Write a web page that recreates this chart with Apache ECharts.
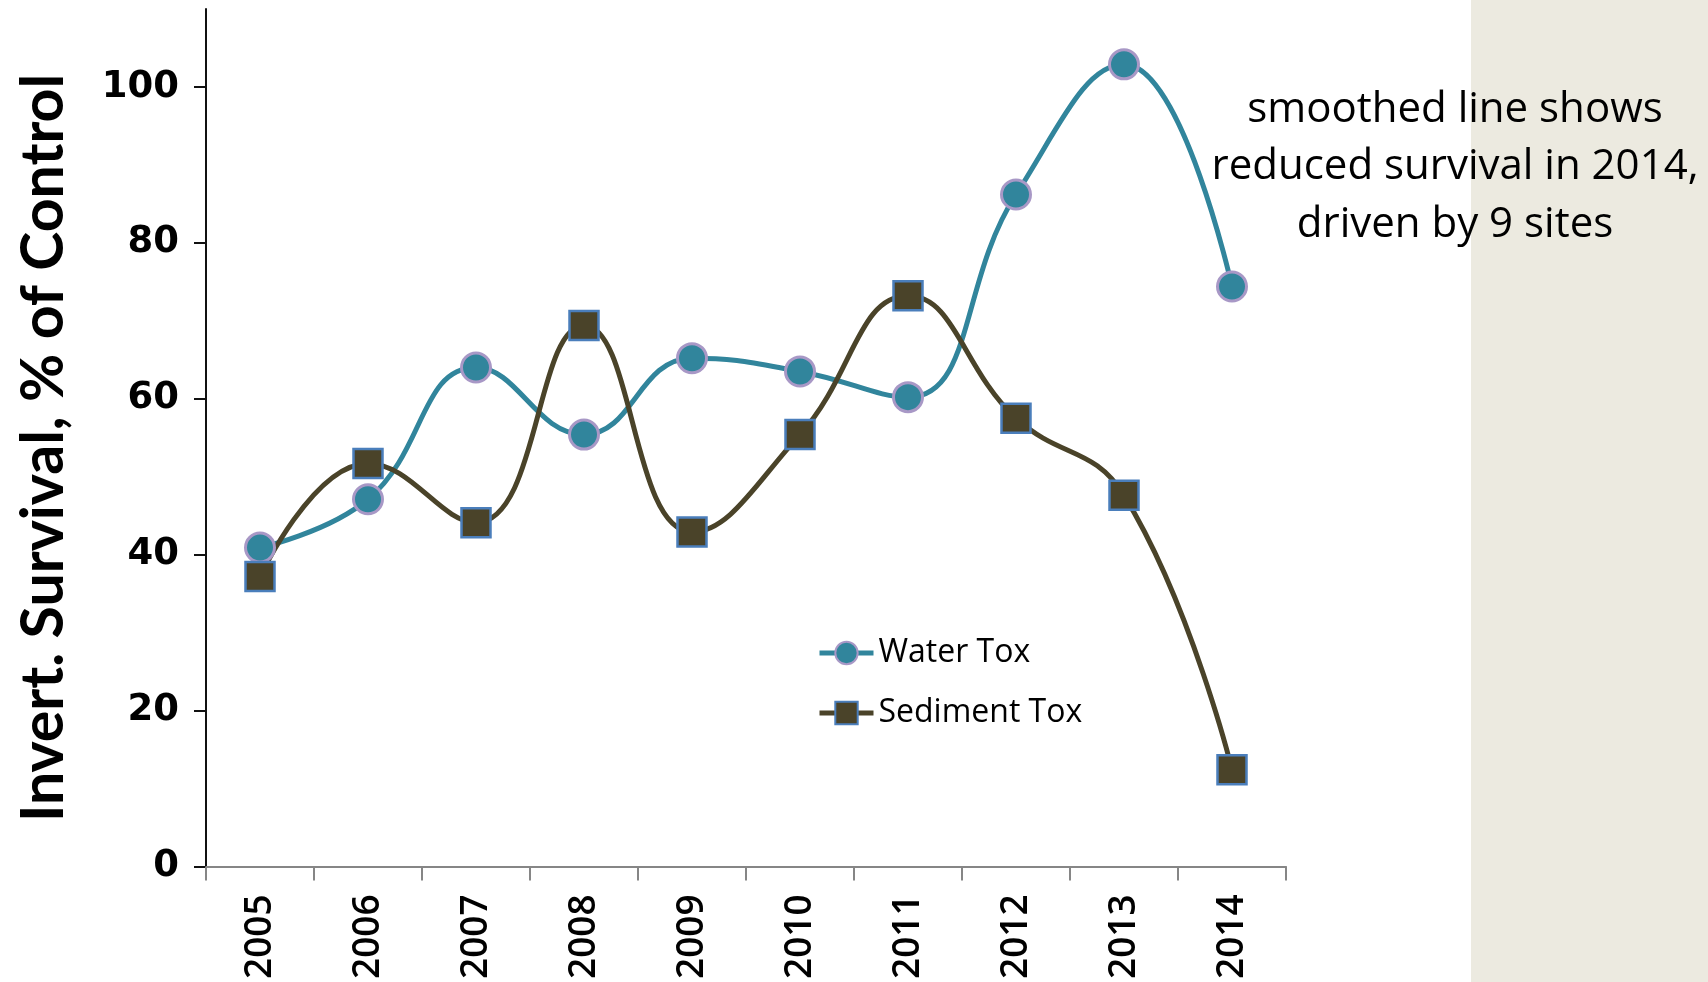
<!DOCTYPE html>
<html><head><meta charset="utf-8">
<script src="https://cdn.jsdelivr.net/npm/echarts@6/dist/echarts.min.js"></script>
<style>html,body{margin:0;padding:0;background:#fff}#c{width:1708px;height:982px}</style>
</head><body><div id="c"></div>
<script>
var years = ['2005','2006','2007','2008','2009','2010','2011','2012','2013','2014'];
var waterTox = [40.9, 47.1, 64.0, 55.4, 65.2, 63.5, 60.2, 86.2, 102.9, 74.4];
var sedimentTox = [37.2, 51.7, 44.1, 69.4, 42.9, 55.4, 73.2, 57.5, 47.6, 12.4];
var yTicks = [0, 20, 40, 60, 80, 100];
var yTitle = 'Invert. Survival, % of Control';
var noteLines = ['smoothed line shows', 'reduced survival in 2014,', 'driven by 9 sites'];

var chart = echarts.init(document.getElementById('c'));
var graphics = [{
  type: 'rect', z: -10, silent: true,
  shape: {x: 1471, y: 0, width: 237, height: 982},
  style: {fill: '#ECEAE0'}
}, {
  type: 'text', z: 10, silent: true,
  x: 44, y: 448, rotation: Math.PI / 2,
  style: {text: yTitle, fill: '#000', font: 'bold 59px Lato', align: 'center', verticalAlign: 'middle'}
}];
noteLines.forEach(function (t, i) {
  graphics.push({
    type: 'text', z: 10, silent: true,
    x: 1455, y: 110 + i * 57.5,
    style: {text: t, fill: '#000', font: '42px "Open Sans"', align: 'center', verticalAlign: 'middle'}
  });
});
chart.setOption({
  backgroundColor: '#fff',
  animation: false,
  graphic: graphics,
  grid: {left: 206, right: 422, top: 9, bottom: 115, containLabel: false},
  legend: {
    orient: 'vertical', left: 812, top: 632,
    itemWidth: 54, itemHeight: 28, itemGap: 28,
    textStyle: {fontFamily: 'Open Sans', fontSize: 32, color: '#000'},
    data: [
      {name: 'Water Tox', lineStyle: {width: 5}},
      {name: 'Sediment Tox', lineStyle: {width: 5}}
    ]
  },
  xAxis: {
    type: 'category', data: years, boundaryGap: true,
    axisLine: {lineStyle: {color: '#868686', width: 2}},
    axisTick: {show: true, length: 14, lineStyle: {color: '#868686', width: 2}},
    axisLabel: {rotate: 90, margin: 28, fontFamily: 'Open Sans', fontWeight: 600, fontSize: 37, color: '#000'},
    splitLine: {show: false}
  },
  yAxis: {
    type: 'value', min: 0, max: 110, interval: 10,
    axisLine: {show: true, lineStyle: {color: '#111', width: 2}},
    axisTick: {show: true, length: 12, customValues: yTicks, lineStyle: {color: '#111', width: 2}},
    axisLabel: {customValues: yTicks, margin: 27, fontFamily: 'DejaVu Sans', fontWeight: 'bold', fontSize: 37, color: '#000'},
    splitLine: {show: false}
  },
  series: [{
    name: 'Water Tox', type: 'line', data: waterTox, smooth: 0.45,
    symbol: 'circle', symbolSize: 29,
    lineStyle: {color: '#31859C', width: 5},
    itemStyle: {color: '#31859C', borderColor: '#A898C6', borderWidth: 3}
  }, {
    name: 'Sediment Tox', type: 'line', data: sedimentTox, smooth: 0.45,
    symbol: 'rect', symbolSize: 29,
    lineStyle: {color: '#4A4329', width: 5},
    itemStyle: {color: '#4A4329', borderColor: '#4A7EBB', borderWidth: 2.5}
  }]
});
</script></body></html>
